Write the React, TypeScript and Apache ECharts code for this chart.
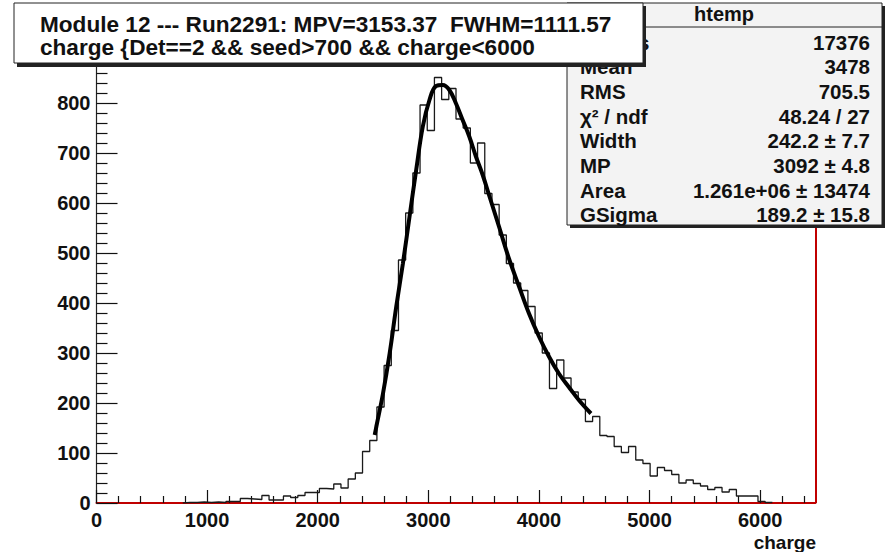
import React, { useEffect, useRef } from "react";
import * as echarts from "echarts";

// ---- data ----
const BIN_WIDTH = 65;
const X_MIN = 0;
const X_MAX = 6500;
const Y_MAX = 875;

// 100 bins of width 65 from 0 to 6500
const counts: number[] = [
  0, 0, 0, 0, 0, 0, 0, 0, 0, 0,
  0, 0, 1, 1, 2, 1, 2, 1, 3, 3,
  9, 8, 7, 15, 6, 6, 14, 11, 15, 21,
  21, 29, 28, 38, 30, 48, 60, 103, 125, 192,
  275, 345, 486, 580, 660, 796, 745, 851, 807, 829,
  768, 750, 680, 720, 619, 597, 536, 479, 440, 425,
  393, 340, 300, 229, 286, 250, 222, 207, 163, 173,
  135, 133, 113, 101, 113, 86, 79, 54, 71, 65,
  57, 40, 46, 39, 34, 27, 31, 22, 27, 14,
  14, 14, 3, 1, 0, 0, 0, 0, 0, 0,
];

// fitted Landau x Gauss curve
const fitX: number[] = [2515, 2530, 2590, 2650, 2710, 2770, 2830, 2890, 2950, 3010, 3070, 3130, 3190, 3250, 3310, 3370, 3430, 3490, 3550, 3640, 3730, 3820, 3910, 4000, 4090, 4180, 4270, 4360, 4470];
const fitY: number[] = [136, 153, 219, 299, 393, 479, 573, 666, 753, 806, 834, 836, 826, 799, 766, 733, 693, 657, 615, 552, 488, 433, 379, 333, 293, 259, 232, 206, 179];

const xMajorTicks: number[] = [0, 1000, 2000, 3000, 4000, 5000, 6000];
const xMinorTicks: number[] = [200, 400, 600, 800, 1200, 1400, 1600, 1800, 2200, 2400, 2600, 2800, 3200, 3400, 3600, 3800, 4200, 4400, 4600, 4800, 5200, 5400, 5600, 5800, 6200, 6400];
const yMajorTicks: number[] = [0, 100, 200, 300, 400, 500, 600, 700, 800];
const yMinorTicks: number[] = [20, 40, 60, 80, 120, 140, 160, 180, 220, 240, 260, 280, 320, 340, 360, 380, 420, 440, 460, 480, 520, 540, 560, 580, 620, 640, 660, 680, 720, 740, 760, 780, 820, 840, 860];

const titleLines: string[] = [
  "Module 12 --- Run2291: MPV=3153.37\u00a0\u00a0FWHM=1111.57",
  "charge {Det==2 && seed>700 && charge<6000",
];
const statsName = "htemp";
const statsLabels: string[] = ["Entries", "Mean", "RMS", "\u03c7\u00b2 / ndf", "Width", "MP", "Area", "GSigma"];
const statsValues: string[] = ["17376", "3478", "705.5", "48.24 / 27", "242.2 \u00b1 7.7", "3092 \u00b1 4.8", "1.261e+06 \u00b1 13474", "189.2 \u00b1 15.8"];
const xTitle = "charge";

const FONT = "'Liberation Sans', Arial, Helvetica, sans-serif";

export default function App() {
  const ref = useRef<HTMLDivElement>(null);
  useEffect(() => {
    if (!ref.current) return;
    const chart = echarts.init(ref.current, undefined, { renderer: "svg" });

    // histogram outline (step) from the first to the last filled bin
    const first = counts.findIndex((c) => c > 0);
    let last = counts.length - 1;
    while (last > 0 && counts[last] === 0) last--;
    const histData: number[][] = [];
    histData.push([X_MIN + first * BIN_WIDTH, 0]);
    for (let i = first; i <= last; i++) histData.push([X_MIN + i * BIN_WIDTH, counts[i]]);
    histData.push([X_MIN + (last + 1) * BIN_WIDTH, 0]);

    const fitData = fitX.map((x, i) => [x, fitY[i]]);

    const labelStyle = { fontFamily: FONT, fontWeight: "bold" as const, fontSize: 20, color: "#111", formatter: (v: number) => String(v) };

    const statsX = 567, statsY = 3, statsW = 315, statsH = 222;
    const titleX = 14, titleY = 3, titleW = 629, titleH = 60;

    const graphics: any[] = [
      { type: "rect", z: 100, shape: { x: statsX + 3, y: statsY + 3, width: statsW, height: statsH }, style: { fill: "#222" } },
      { type: "rect", z: 101, shape: { x: statsX, y: statsY, width: statsW, height: statsH }, style: { fill: "#f3f3f3", stroke: "#222", lineWidth: 1 } },
      { type: "line", z: 102, shape: { x1: statsX, y1: 27, x2: statsX + statsW, y2: 27 }, style: { stroke: "#222", lineWidth: 1 } },
      { type: "text", z: 102, x: 724, y: 14, style: { text: statsName, font: `bold 20px ${FONT}`, fill: "#111", align: "center", verticalAlign: "middle" } },
    ];
    statsLabels.forEach((lab, i) => {
      const y = 42 + 24.7 * i;
      graphics.push({ type: "text", z: 102, x: 580, y, style: { text: lab, font: `bold 20.5px ${FONT}`, fill: "#111", align: "left", verticalAlign: "middle" } });
      graphics.push({ type: "text", z: 102, x: 870, y, style: { text: statsValues[i], font: `bold 20.5px ${FONT}`, fill: "#111", align: "right", verticalAlign: "middle" } });
    });
    graphics.push(
      { type: "rect", z: 110, shape: { x: titleX + 3, y: titleY + 3, width: titleW, height: titleH + 1 }, style: { fill: "#222" } },
      { type: "rect", z: 111, shape: { x: titleX, y: titleY, width: titleW, height: titleH }, style: { fill: "#ffffff", stroke: "#222", lineWidth: 1 } }
    );
    titleLines.forEach((t, i) => {
      graphics.push({ type: "text", z: 112, x: 40, y: 24 + 23 * i, style: { text: t, font: `bold 22.6px ${FONT}`, fill: "#111", align: "left", verticalAlign: "middle" } });
    });
    graphics.push({ type: "text", z: 50, x: 816, y: 542, style: { text: xTitle, font: `bold 19px ${FONT}`, fill: "#111", align: "right", verticalAlign: "middle" } });

    chart.setOption({
      animation: false,
      backgroundColor: "#ffffff",
      grid: { left: 96.5, right: 77.5, top: 65.5, bottom: 49, show: true, borderColor: "#333", borderWidth: 1, backgroundColor: "transparent" },
      xAxis: [
        {
          type: "value", min: X_MIN, max: X_MAX, position: "bottom",
          axisLine: { show: true, onZero: false, lineStyle: { color: "#c00000", width: 2 } },
          axisTick: { show: true, inside: true, length: 13, customValues: xMajorTicks, lineStyle: { color: "#111", width: 1.2 } },
          axisLabel: { show: true, customValues: xMajorTicks, margin: 7, ...labelStyle },
          splitLine: { show: false },
        },
        {
          type: "value", min: X_MIN, max: X_MAX, position: "bottom", offset: 0,
          axisLine: { show: false },
          axisTick: { show: true, inside: true, length: 7, customValues: xMinorTicks, lineStyle: { color: "#111", width: 1.2 } },
          axisLabel: { show: false },
          splitLine: { show: false },
        },
      ],
      yAxis: [
        {
          type: "value", min: 0, max: Y_MAX, position: "left",
          axisLine: { show: true, onZero: false, lineStyle: { color: "#222", width: 1.2 } },
          axisTick: { show: true, inside: true, length: 21, customValues: yMajorTicks, lineStyle: { color: "#111", width: 1.2 } },
          axisLabel: { show: true, customValues: yMajorTicks, margin: 6, ...labelStyle },
          splitLine: { show: false },
        },
        {
          type: "value", min: 0, max: Y_MAX, position: "left", offset: 0,
          axisLine: { show: false },
          axisTick: { show: true, inside: true, length: 11, customValues: yMinorTicks, lineStyle: { color: "#111", width: 1.2 } },
          axisLabel: { show: false },
          splitLine: { show: false },
        },
      ],
      series: [
        {
          type: "line", xAxisIndex: 0, yAxisIndex: 0, data: histData, step: "end",
          showSymbol: false, symbol: "none", z: 3,
          lineStyle: { color: "#1a1a1a", width: 1.3 },
          markLine: {
            silent: true, symbol: ["none", "none"], label: { show: false },
            lineStyle: { color: "#c00000", width: 2, type: "solid" },
            data: [{ xAxis: X_MAX }],
          },
        },
        {
          type: "line", xAxisIndex: 0, yAxisIndex: 0, data: fitData, smooth: 0.4,
          showSymbol: false, symbol: "none", z: 4,
          lineStyle: { color: "#000", width: 4 },
        },
      ],
      graphic: graphics,
    });
    return () => chart.dispose();
  }, []);
  return <div ref={ref} style={{ position: "absolute", left: 0, top: 0, width: 893, height: 552, background: "#fff" }} />;
}
